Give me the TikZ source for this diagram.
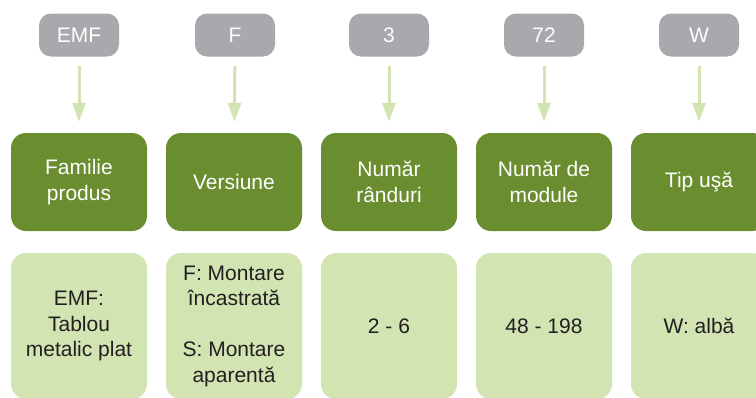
\documentclass[tikz,border=0pt]{standalone}
\usepackage{fontspec}
\setmainfont{Liberation Sans}
\usetikzlibrary{arrows.meta}
\definecolor{codegray}{HTML}{A7A9AC}
\definecolor{fieldgreen}{HTML}{6A8E2F}
\definecolor{optiongreen}{HTML}{D1E4B2}
\definecolor{optiontext}{HTML}{231F20}

\begin{document}
\begin{tikzpicture}[x=1pt,y=-1pt]
    \tikzstyle{every node}=[font=\fontsize{21}{25.5}\selectfont, inner sep=0pt, align=center]
    \tikzstyle{code} = [rectangle, rounded corners=12pt, fill=codegray, text=white, minimum width=80pt, minimum height=43pt]
    \tikzstyle{field} = [rectangle, rounded corners=15pt, fill=fieldgreen, text=white, minimum width=136pt, minimum height=98pt]
    \tikzstyle{option} = [rectangle, rounded corners=15pt, fill=optiongreen, text=optiontext, minimum width=136pt, minimum height=146pt]
    \tikzstyle{edge} = [-{Triangle[width=13pt,length=19pt]}, line width=3pt, draw=optiongreen, shorten <=9.5pt, shorten >=11pt]

    \clip (0,0) rectangle (756,397);

    % codes
    \node[code](c1) at (79,35) {EMF};
    \node[code](c2) at (235,35) {F};
    \node[code](c3) at (389,35) {3};
    \node[code](c4) at (544,35) {72};
    \node[code](c5) at (699,35) {W};

    % fields
    \node[field](f1) at (79,182) {Familie\\produs};
    \node[field](f2) at (234,182) {Versiune};
    \node[field](f3) at (389,182) {Număr\\rânduri};
    \node[field](f4) at (544,182) {Număr de\\module};
    \node[field](f5) at (699,182) {Tip uşă};

    \draw[edge] (c1) -- (f1);
    \draw[edge] (c2) -- (f2);
    \draw[edge] (c3) -- (f3);
    \draw[edge] (c4) -- (f4);
    \draw[edge] (c5) -- (f5);

    % options
    \node[option](o1) at (79,326) {EMF:\\Tablou\\metalic plat};
    \node[option](o2) at (234,326) {F: Montare\\încastrată\\[25.5pt]S: Montare\\aparentă};
    \node[option](o3) at (389,326) {2 - 6};
    \node[option](o4) at (544,326) {48 - 198};
    \node[option](o5) at (699,326) {W: albă};
\end{tikzpicture}
\end{document}
